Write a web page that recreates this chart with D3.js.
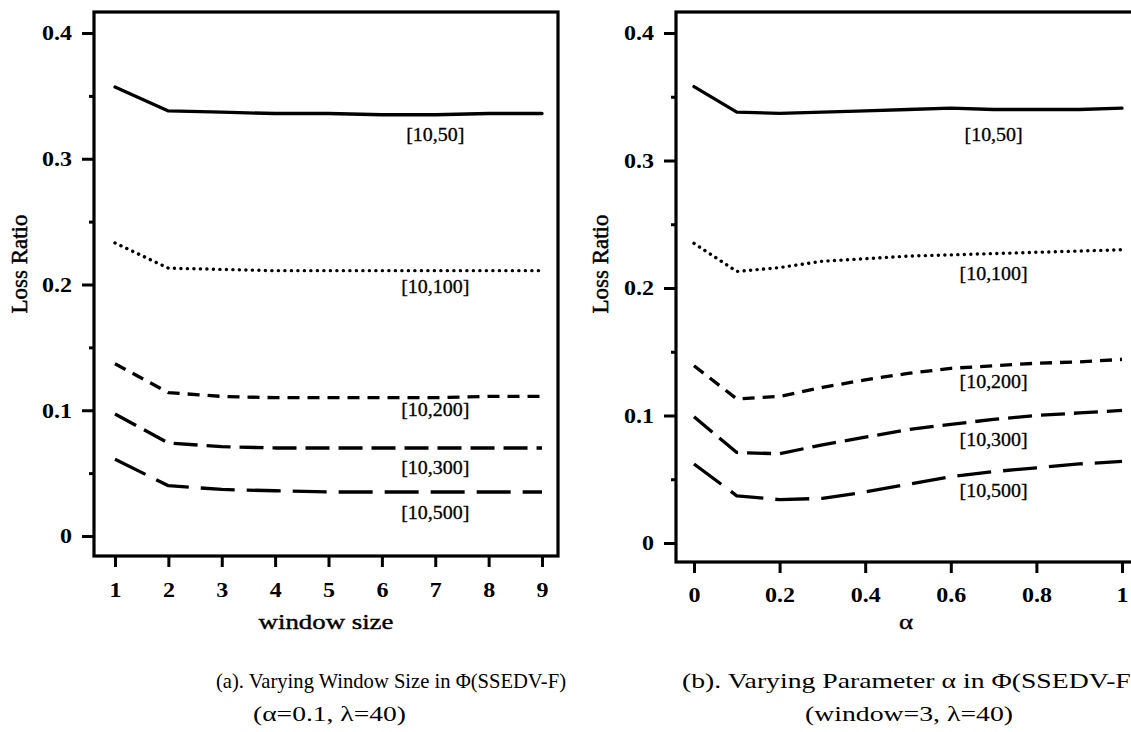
<!DOCTYPE html>
<html>
<head>
<meta charset="utf-8">
<script src="https://cdn.jsdelivr.net/npm/d3@7"></script>
<style>
  body { margin: 0; background: #fff; }
  svg text { font-family: "Liberation Serif", "Times New Roman", serif; fill: #000; }
</style>
</head>
<body>
<svg id="chart" width="1131" height="732"></svg>
<script>
// ---- data ----
const seriesNames = ["[10,50]", "[10,100]", "[10,200]", "[10,300]", "[10,500]"];

// panel (a): loss ratio vs window size
const windowSizes = [1, 2, 3, 4, 5, 6, 7, 8, 9];
const windowLoss50  = [0.357, 0.338, 0.337, 0.336, 0.336, 0.335, 0.335, 0.336, 0.336];
const windowLoss100 = [0.233, 0.213, 0.212, 0.211, 0.211, 0.211, 0.211, 0.211, 0.211];
const windowLoss200 = [0.137, 0.114, 0.111, 0.110, 0.110, 0.110, 0.110, 0.111, 0.111];
const windowLoss300 = [0.097, 0.074, 0.071, 0.070, 0.070, 0.070, 0.070, 0.070, 0.070];
const windowLoss500 = [0.061, 0.040, 0.037, 0.036, 0.035, 0.035, 0.035, 0.035, 0.035];

// panel (b): loss ratio vs alpha
const alphas = [0, 0.1, 0.2, 0.3, 0.4, 0.5, 0.6, 0.7, 0.8, 0.9, 1.0];
const alphaLoss50  = [0.358, 0.338, 0.337, 0.338, 0.339, 0.340, 0.341, 0.340, 0.340, 0.340, 0.341];
const alphaLoss100 = [0.235, 0.213, 0.216, 0.221, 0.223, 0.225, 0.226, 0.227, 0.228, 0.229, 0.230];
const alphaLoss200 = [0.139, 0.113, 0.115, 0.122, 0.128, 0.133, 0.137, 0.139, 0.141, 0.142, 0.144];
const alphaLoss300 = [0.099, 0.071, 0.070, 0.077, 0.083, 0.089, 0.093, 0.097, 0.100, 0.102, 0.104];
const alphaLoss500 = [0.062, 0.037, 0.034, 0.035, 0.040, 0.046, 0.052, 0.056, 0.059, 0.062, 0.064];

// ticks
const yTicks = [0, 0.1, 0.2, 0.3, 0.4];
const yMinorTicks = [0.05, 0.15, 0.25, 0.35];
const windowTicks = [1, 2, 3, 4, 5, 6, 7, 8, 9];
const alphaTicks = [0, 0.2, 0.4, 0.6, 0.8, 1];

// captions
const captionA = ["(a). Varying Window Size in \u03a6(SSEDV-F)", "(\u03b1=0.1, \u03bb=40)"];
const captionB = ["(b). Varying Parameter \u03b1 in \u03a6(SSEDV-F)", "(window=3, \u03bb=40)"];

// ---- styles / layout ----
const dashes = ["none", "0.1,6.4", "12,8", "24,9", "34,12"];
const caps = ["round", "round", "butt", "butt", "butt"];

const panels = [
  {
    xs: windowSizes, ys: [windowLoss50, windowLoss100, windowLoss200, windowLoss300, windowLoss500],
    ticks: windowTicks, fmt: d => d,
    frame: {left: 94, top: 12, right: 558, bottom: 556},
    xDomain: [1, 9], xRange: [115, 542], yRange: [536, 33],
    labelAt: 7, labelDy: [20, 16, 12, 19, 20],
    xTitle: "window size", xTitleX: 326, yTitleX: 19,
    tickPadX: 16
  },
  {
    xs: alphas, ys: [alphaLoss50, alphaLoss100, alphaLoss200, alphaLoss300, alphaLoss500],
    ticks: alphaTicks, fmt: d => d === 0 ? "0" : d === 1 ? "1" : d3.format(".1f")(d),
    frame: {left: 676, top: 12, right: 1150, bottom: 562},
    xDomain: [0, 1], xRange: [694, 1122], yRange: [543, 33],
    labelAt: 0.7, labelDy: [25, 20, 16, 20, 19],
    xTitle: "\u03b1", xTitleX: 906, yTitleX: 600,
    tickPadX: 15
  }
];

const svg = d3.select("#chart");
svg.append("rect").attr("width", 1131).attr("height", 732).attr("fill", "#fff");

// stretch a text element horizontally around its anchor
function stretch(sel, sx) {
  sel.each(function() {
    const t = d3.select(this);
    const x = +t.attr("x") || 0;
    const y = +t.attr("y") || 0;
    t.attr("x", 0).attr("y", 0)
      .attr("transform", `translate(${x},${y}) scale(${sx},1)`);
  });
}

panels.forEach(p => {
  const g = svg.append("g");
  const x = d3.scaleLinear().domain(p.xDomain).range(p.xRange);
  const y = d3.scaleLinear().domain([0, 0.4]).range(p.yRange);

  // frame
  g.append("rect")
    .attr("x", p.frame.left).attr("y", p.frame.top)
    .attr("width", p.frame.right - p.frame.left)
    .attr("height", p.frame.bottom - p.frame.top)
    .attr("fill", "none").attr("stroke", "#000").attr("stroke-width", 3.2);

  // y axis (major + minor)
  const yAxis = g.append("g")
    .attr("transform", `translate(${p.frame.left},0)`)
    .call(d3.axisLeft(y).tickValues(yTicks).tickSize(12).tickPadding(10)
      .tickFormat(d => d === 0 ? "0" : d3.format(".1f")(d)));
  yAxis.select(".domain").remove();
  yAxis.selectAll("line").attr("stroke-width", 3);
  yAxis.selectAll("text")
    .attr("font-size", 20).attr("font-weight", "bold")
    .attr("font-family", "'Liberation Serif', serif")
    .attr("dy", "0.34em")
    .call(stretch, 1.2);

  const yMinor = g.append("g")
    .attr("transform", `translate(${p.frame.left},0)`)
    .call(d3.axisLeft(y).tickValues(yMinorTicks).tickSize(5).tickFormat(""));
  yMinor.select(".domain").remove();
  yMinor.selectAll("line").attr("stroke-width", 3);

  // x axis
  const xAxis = g.append("g")
    .attr("transform", `translate(0,${p.frame.bottom})`)
    .call(d3.axisBottom(x).tickValues(p.ticks).tickSize(11).tickPadding(p.tickPadX).tickFormat(p.fmt));
  xAxis.select(".domain").remove();
  xAxis.selectAll("line").attr("stroke-width", 3);
  xAxis.selectAll("text")
    .attr("font-size", 20).attr("font-weight", "bold")
    .attr("font-family", "'Liberation Serif', serif")
    .call(stretch, 1.2);

  // axis titles
  g.append("text")
    .attr("x", p.xTitleX).attr("y", 621).attr("dy", "0.35em")
    .attr("text-anchor", "middle").attr("font-size", 22)
    .attr("stroke", "#000").attr("stroke-width", 0.4)
    .text(p.xTitle)
    .call(stretch, 1.22);

  g.append("text")
    .attr("transform", `translate(${p.yTitleX},264) rotate(-90)`)
    .attr("text-anchor", "middle").attr("dy", "0.35em")
    .attr("font-size", 23)
    .attr("stroke", "#000").attr("stroke-width", 0.5)
    .text("Loss Ratio");

  // lines
  const line = d3.line()
    .x((d, i) => x(p.xs[i]))
    .y(d => y(d));

  p.ys.forEach((vals, k) => {
    g.append("path")
      .datum(vals)
      .attr("d", line)
      .attr("fill", "none")
      .attr("stroke", "#000")
      .attr("stroke-width", k === 1 ? 3.4 : 3.3)
      .attr("stroke-dasharray", dashes[k])
      .attr("stroke-linecap", caps[k])
      .attr("stroke-linejoin", "round");

    const idx = p.xs.indexOf(p.labelAt);
    g.append("text")
      .attr("x", x(p.labelAt))
      .attr("y", y(vals[idx]) + p.labelDy[k])
      .attr("dy", "0.35em")
      .attr("text-anchor", "middle")
      .attr("font-size", 19)
      .attr("stroke", "#000").attr("stroke-width", 0.3)
      .text(seriesNames[k])
      .call(stretch, 1.05);
  });
});

// captions (the scanned captions have uneven widths, matched with textLength)
const cap = svg.append("g").attr("font-size", 21);
function caption(txt, x, y, anchor, len) {
  cap.append("text")
    .attr("x", x).attr("y", y).attr("dy", "0.35em")
    .attr("text-anchor", anchor)
    .attr("textLength", len).attr("lengthAdjust", "spacingAndGlyphs")
    .text(txt);
}
caption(captionA[0], 216, 681, "start", 350);
caption(captionA[1], 253, 714, "start", 153);
caption(captionB[0], 682, 681, "start", 458);
caption(captionB[1], 805, 714, "start", 208);
</script>
</body>
</html>
